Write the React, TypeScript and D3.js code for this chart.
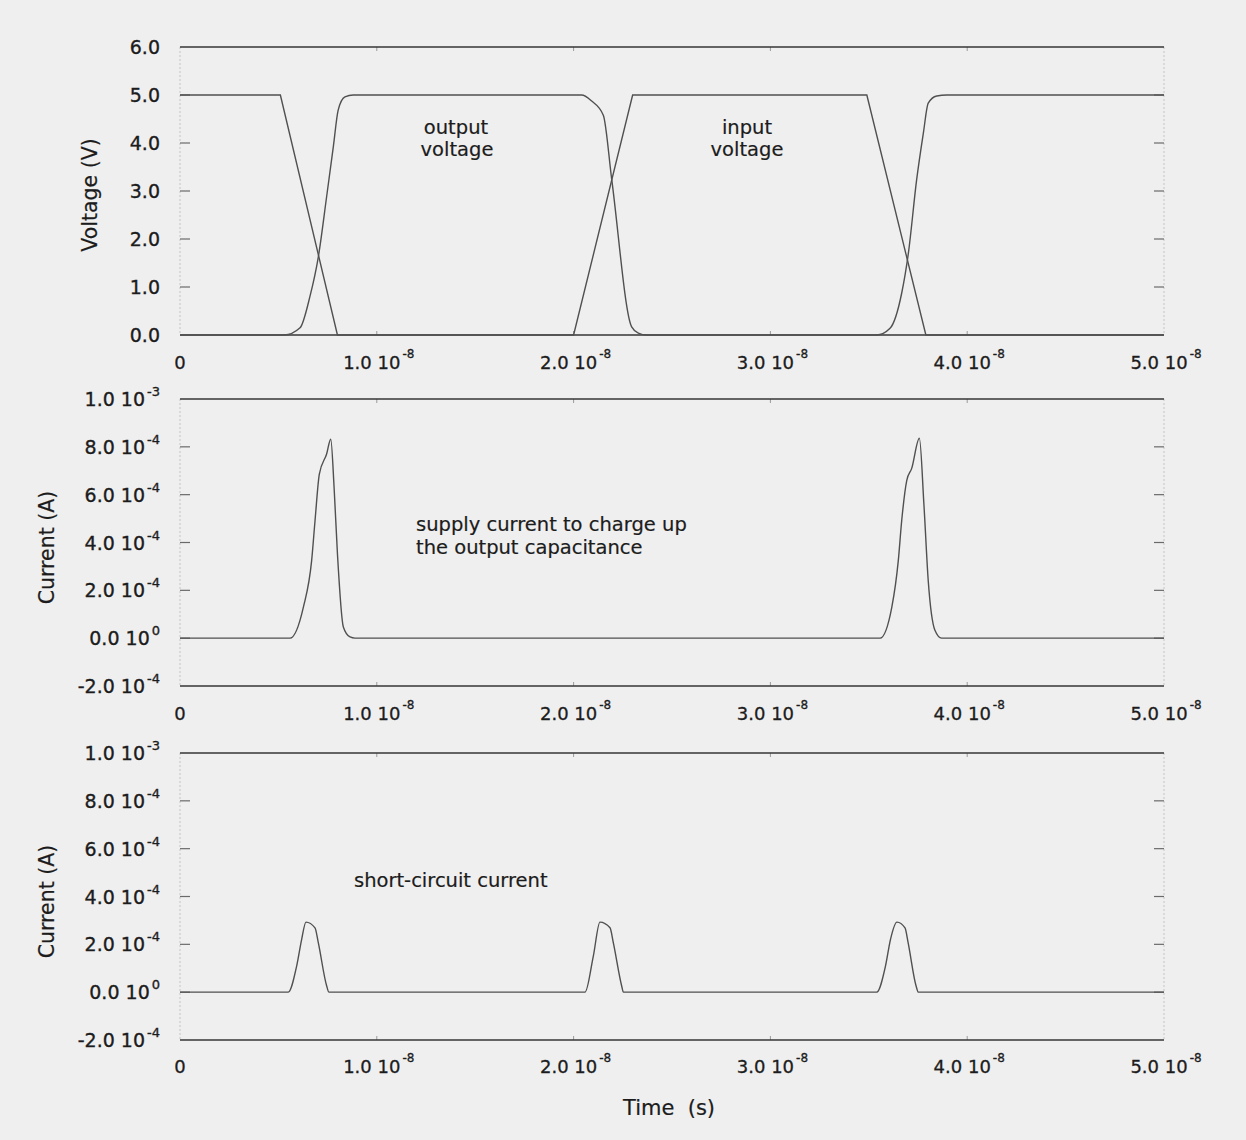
import { useEffect, useRef } from "react";
import * as d3 from "d3";

// time values are in units of 1e-8 s, currents in units of 1e-4 A
const timeTicks = [0, 1, 2, 3, 4, 5];
const timeTickMain = ["0", "1.0 10", "2.0 10", "3.0 10", "4.0 10", "5.0 10"];
const timeTickSup = ["", "-8", "-8", "-8", "-8", "-8"];

const voltTicks = [0, 1, 2, 3, 4, 5, 6];
const voltTickLabels = ["0.0", "1.0", "2.0", "3.0", "4.0", "5.0", "6.0"];

const currentTicks = [-2, 0, 2, 4, 6, 8, 10];
const currentTickMain = ["-2.0 10", "0.0 10", "2.0 10", "4.0 10", "6.0 10", "8.0 10", "1.0 10"];
const currentTickSup = ["-4", "0", "-4", "-4", "-4", "-4", "-3"];

// input voltage (trapezoid)
const inputT = [0, 0.51, 0.8, 2.0, 2.3, 3.49, 3.79, 5.0];
const inputV = [5, 5, 0, 0, 5, 5, 0, 0];

// output voltage
const outputT = [
  0, 0.53, 0.61, 0.66, 0.703, 0.745, 0.779, 0.804, 0.838, 0.88,
  2.041, 2.09, 2.151, 2.194, 2.295, 2.329, 2.371,
  3.54, 3.608, 3.667, 3.701, 3.743, 3.777, 3.802, 3.845, 3.896, 5.0,
];
const outputV = [
  0, 0, 0.15, 0.8, 1.63, 2.88, 3.92, 4.69, 4.96, 5,
  5, 4.88, 4.58, 3.23, 0.17, 0.04, 0,
  0, 0.14, 0.87, 1.7, 3.23, 4.2, 4.83, 4.98, 5, 5,
];

// supply current to charge up the output capacitance
const supplyT = [
  0, 0.559, 0.627, 0.669, 0.686, 0.708, 0.745, 0.766, 0.783, 0.8, 0.83, 0.864, 0.889,
  3.557, 3.617, 3.65, 3.667, 3.693, 3.718, 3.757, 3.78, 3.802, 3.836, 3.87, 5.0,
];
const supplyI = [
  0, 0, 1.3, 3.25, 4.9, 6.86, 7.7, 8.32, 6.3, 3.53, 0.47, 0.05, 0,
  0, 1.3, 3.25, 4.9, 6.6, 7.1, 8.36, 5.6, 2.4, 0.33, 0, 0,
];

// short-circuit current
const shortT = [
  0, 0.55, 0.593, 0.618, 0.64, 0.686, 0.703, 0.745, 0.757,
  2.058, 2.1, 2.134, 2.185, 2.202, 2.244, 2.253,
  3.54, 3.585, 3.61, 3.643, 3.684, 3.7, 3.74, 3.752, 5.0,
];
const shortI = [
  0, 0, 1.1, 2.2, 2.93, 2.69, 2.06, 0.27, 0,
  0, 1.5, 2.93, 2.69, 2.06, 0.27, 0,
  0, 1.1, 2.2, 2.93, 2.69, 2.06, 0.27, 0, 0,
];

const W = 1246;
const H = 1140;
const FONT = "DejaVu Sans";
const INK = "#1c1c1c";

type Pt = [number, number];
const zip = (a: number[], b: number[]): Pt[] => a.map((v, i) => [v, b[i]]);

export default function App() {
  const svgRef = useRef<SVGSVGElement>(null);

  useEffect(() => {
    if (!svgRef.current) return;
    const svg = d3.select(svgRef.current);
    svg.selectAll("*").remove();

    svg.append("rect").attr("width", W).attr("height", H).attr("fill", "#efefef");

    const x = d3.scaleLinear().domain([0, 5]).range([180, 1164]);

    const panels = [
      {
        y: d3.scaleLinear().domain([0, 6]).range([335, 47]),
        ticks: voltTicks,
        main: voltTickLabels,
        sup: null as string[] | null,
        title: "Voltage (V)",
        titleX: 90,
        xLabelY: 362,
        series: [
          { data: zip(inputT, inputV), curve: d3.curveLinear },
          { data: zip(outputT, outputV), curve: d3.curveMonotoneX },
        ],
      },
      {
        y: d3.scaleLinear().domain([-2, 10]).range([686, 399]),
        ticks: currentTicks,
        main: currentTickMain,
        sup: currentTickSup,
        title: "Current (A)",
        titleX: 47,
        xLabelY: 713,
        series: [{ data: zip(supplyT, supplyI), curve: d3.curveMonotoneX }],
      },
      {
        y: d3.scaleLinear().domain([-2, 10]).range([1040, 753]),
        ticks: currentTicks,
        main: currentTickMain,
        sup: currentTickSup,
        title: "Current (A)",
        titleX: 47,
        xLabelY: 1066,
        series: [{ data: zip(shortT, shortI), curve: d3.curveMonotoneX }],
      },
    ];

    panels.forEach((p) => {
      const g = svg.append("g");
      const [d0, d1] = p.y.domain();
      const yb = p.y(d0);
      const yt = p.y(d1);
      const [xl, xr] = x.range();

      // faint side borders
      [xl, xr].forEach((xx) => {
        g.append("line")
          .attr("x1", xx).attr("x2", xx).attr("y1", yt).attr("y2", yb)
          .attr("stroke", "#c4c4c4").attr("stroke-width", 1)
          .attr("stroke-dasharray", "2,2");
      });

      // x ticks on top and bottom borders
      timeTicks.slice(1, -1).forEach((t) => {
        g.append("line")
          .attr("x1", x(t)).attr("x2", x(t)).attr("y1", yt).attr("y2", yt + 4)
          .attr("stroke", "#9a9a9a");
        g.append("line")
          .attr("x1", x(t)).attr("x2", x(t)).attr("y1", yb).attr("y2", yb - 4)
          .attr("stroke", "#9a9a9a");
      });

      // inner y ticks, both sides
      p.ticks.slice(1, -1).forEach((v) => {
        g.append("line")
          .attr("x1", xl).attr("x2", xl + 10).attr("y1", p.y(v)).attr("y2", p.y(v))
          .attr("stroke", "#6a6a6a").attr("stroke-width", 1.2);
        g.append("line")
          .attr("x1", xr - 10).attr("x2", xr).attr("y1", p.y(v)).attr("y2", p.y(v))
          .attr("stroke", "#6a6a6a").attr("stroke-width", 1.2);
      });

      // top and bottom borders
      [yt, yb].forEach((yy) => {
        g.append("line")
          .attr("x1", xl).attr("x2", xr).attr("y1", yy).attr("y2", yy)
          .attr("stroke", "#363636").attr("stroke-width", 1.7);
      });

      // curves
      p.series.forEach((s) => {
        const line = d3
          .line<Pt>()
          .x((d) => x(d[0]))
          .y((d) => p.y(d[1]))
          .curve(s.curve);
        g.append("path")
          .attr("d", line(s.data) as string)
          .attr("fill", "none")
          .attr("stroke", "#505050")
          .attr("stroke-width", 1.4);
      });

      // y tick labels
      p.ticks.forEach((v, i) => {
        const txt = g.append("text")
          .attr("x", 160)
          .attr("y", p.y(v))
          .attr("text-anchor", "end")
          .attr("dominant-baseline", "central")
          .attr("font-family", FONT)
          .attr("font-size", 19)
          .attr("fill", INK)
          .attr("stroke", INK)
          .attr("stroke-width", 0.35);
        if (p.sup) {
          txt.append("tspan").text(p.main[i]);
          txt.append("tspan")
            .attr("dx", 2)
            .attr("dy", -8)
            .attr("font-size", 13)
            .text(p.sup[i]);
        } else {
          txt.text(p.main[i]);
        }
      });

      // x tick labels
      timeTicks.forEach((t, i) => {
        const txt = g.append("text")
          .attr("x", x(t) + (i === 0 ? 0 : 2))
          .attr("y", p.xLabelY)
          .attr("text-anchor", "middle")
          .attr("dominant-baseline", "central")
          .attr("font-family", FONT)
          .attr("font-size", 18)
          .attr("fill", INK)
          .attr("stroke", INK)
          .attr("stroke-width", 0.3);
        txt.append("tspan").text(timeTickMain[i]);
        if (timeTickSup[i]) {
          txt.append("tspan")
            .attr("dx", 2)
            .attr("dy", -8)
            .attr("font-size", 12)
            .text(timeTickSup[i]);
        }
      });

      // y axis title
      const ty = (yt + yb) / 2 + (p.titleX === 90 ? 4 : 5);
      g.append("text")
        .attr("transform", `translate(${p.titleX},${ty}) rotate(-90)`)
        .attr("text-anchor", "middle")
        .attr("dominant-baseline", "central")
        .attr("font-family", FONT)
        .attr("font-size", 20.5)
        .attr("fill", INK)
        .attr("stroke", INK)
        .attr("stroke-width", 0.2)
        .text(p.title);
    });

    // annotations
    const notes = [
      { text: "output", x: 456, y: 127, anchor: "middle" },
      { text: "voltage", x: 457, y: 149, anchor: "middle" },
      { text: "input", x: 747, y: 127, anchor: "middle" },
      { text: "voltage", x: 747, y: 149, anchor: "middle" },
      { text: "supply current to charge up", x: 416, y: 524, anchor: "start" },
      { text: "the output capacitance", x: 416, y: 547, anchor: "start" },
      { text: "short-circuit current", x: 354, y: 880, anchor: "start" },
    ];
    notes.forEach((n) => {
      svg.append("text")
        .attr("x", n.x)
        .attr("y", n.y)
        .attr("text-anchor", n.anchor)
        .attr("dominant-baseline", "central")
        .attr("font-family", FONT)
        .attr("font-size", 19.5)
        .attr("fill", INK)
        .attr("stroke", INK)
        .attr("stroke-width", 0.2)
        .text(n.text);
    });

    svg.append("text")
      .attr("x", 669)
      .attr("y", 1108)
      .attr("text-anchor", "middle")
      .attr("dominant-baseline", "central")
      .attr("font-family", FONT)
      .attr("font-size", 21)
      .attr("fill", INK)
      .attr("stroke", INK)
      .attr("stroke-width", 0.2)
      .attr("xml:space", "preserve")
      .style("white-space", "pre")
      .text("Time  (s)");
  }, []);

  return (
    <svg
      ref={svgRef}
      width={W}
      height={H}
      style={{ position: "absolute", left: 0, top: 0, display: "block" }}
    ></svg>
  );
}
